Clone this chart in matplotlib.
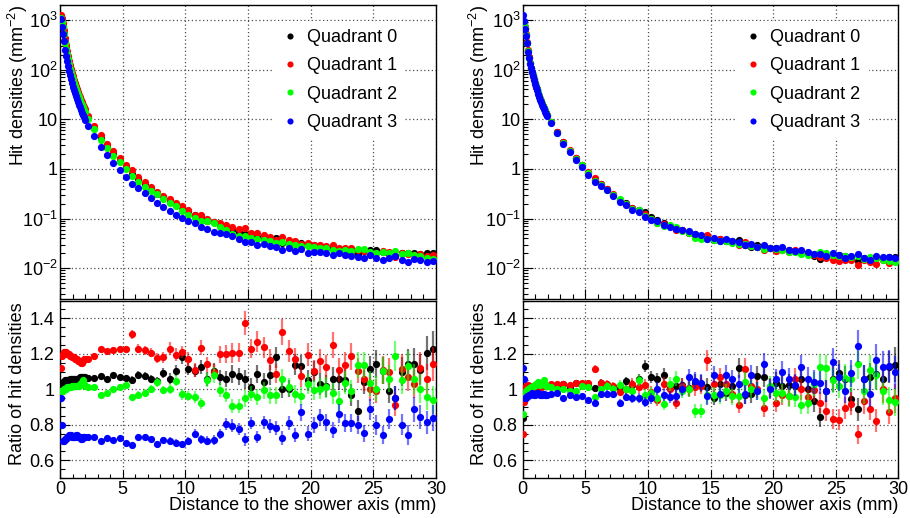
import numpy as np
import matplotlib
matplotlib.use("Agg")
import matplotlib.pyplot as plt
from matplotlib.ticker import FixedLocator, MultipleLocator, LogLocator, NullFormatter, FixedFormatter
from matplotlib.colors import to_rgba

plt.rcParams['font.family'] = ['Liberation Sans', 'DejaVu Sans']
plt.rcParams['mathtext.fontset'] = 'custom'
plt.rcParams['mathtext.rm'] = 'Liberation Sans'
plt.rcParams['mathtext.it'] = 'Liberation Sans:italic'
plt.rcParams['mathtext.bf'] = 'Liberation Sans:bold'

# ---------------- binning (mm) ----------------
fine_edges = np.arange(0.0, 2.0001, 0.08)     # 25 fine bins
coarse_edges = np.arange(2.0, 30.0001, 0.5)   # 56 coarse bins
x_fine = 0.5 * (fine_edges[:-1] + fine_edges[1:])
x_coarse = 0.5 * (coarse_edges[:-1] + coarse_edges[1:])
x_mm = np.concatenate([x_fine, x_coarse])

labels = ["Quadrant 0", "Quadrant 1", "Quadrant 2", "Quadrant 3"]
colors = ["#000000", "#ff0000", "#00ff00", "#0000ff"]

# ---------------- average hit density (mm^-2) ----------------
ref_left_fine = [1100, 900, 740, 520, 350, 257, 200, 160, 126, 104, 87, 73, 62, 53, 46,
                 40, 35, 30.5, 27, 24, 21, 19, 17, 15, 13.5]
ref_left_coarse = [10.0, 6.2, 3.95, 2.65, 1.85, 1.33, 0.98, 0.74,
                   0.57, 0.45, 0.36, 0.295, 0.245, 0.205, 0.172, 0.146,
                   0.125, 0.108, 0.095, 0.085, 0.076, 0.068, 0.061, 0.055,
                   0.05, 0.046, 0.042, 0.040, 0.038, 0.036, 0.034, 0.0325,
                   0.031, 0.0298, 0.0286, 0.0275, 0.0265, 0.0256, 0.0248, 0.024,
                   0.0233, 0.0226, 0.022, 0.0215, 0.021, 0.0205, 0.020, 0.0196,
                   0.0192, 0.0188, 0.0184, 0.018, 0.0176, 0.0172, 0.0168, 0.0165]
ref_right_fine = [1100, 900, 700, 500, 350, 240, 175, 136, 108, 90, 75, 63, 53, 45, 39,
                  33.5, 29, 25.5, 22.5, 20, 18, 16.2, 14.6, 13.2, 12]
ref_right_coarse = [8.6, 5.4, 3.4, 2.3, 1.57, 1.15, 0.82, 0.60,
                    0.475, 0.377, 0.30, 0.237, 0.196, 0.16, 0.142, 0.118,
                    0.10, 0.087, 0.077, 0.071, 0.063, 0.058, 0.052, 0.0465,
                    0.044, 0.041, 0.038, 0.037, 0.036, 0.034, 0.0325, 0.030,
                    0.028, 0.027, 0.026, 0.025, 0.0245, 0.024, 0.0225, 0.022,
                    0.021, 0.020, 0.019, 0.0185, 0.018, 0.0175, 0.017, 0.0166,
                    0.0162, 0.0158, 0.0155, 0.0152, 0.015, 0.0148, 0.0146, 0.0145]

# ---------------- ratios to the average: left ----------------
L0_fine = [1.00, 1.03, 1.04, 1.04, 1.05, 1.05, 1.05, 1.05, 1.05, 1.06, 1.06, 1.06, 1.06,
           1.06, 1.06, 1.06, 1.06, 1.06, 1.06, 1.07, 1.07, 1.07, 1.07, 1.07, 1.07]
L1_fine = [1.12, 1.19, 1.20, 1.21, 1.21, 1.21, 1.20, 1.20, 1.20, 1.19, 1.19, 1.18, 1.18,
           1.18, 1.17, 1.17, 1.17, 1.16, 1.16, 1.16, 1.15, 1.15, 1.16, 1.17, 1.17]
L2_fine = [0.99, 0.99, 0.99, 1.00, 1.00, 1.00, 1.01, 1.01, 1.01, 1.01, 1.01, 1.02, 1.02,
           1.02, 1.02, 1.02, 1.02, 1.02, 1.02, 1.03, 1.03, 1.04, 1.05, 1.03, 1.02]
L3_fine = [0.95, 0.80, 0.71, 0.71, 0.72, 0.72, 0.73, 0.73, 0.74, 0.74, 0.74, 0.73, 0.73,
           0.73, 0.73, 0.74, 0.74, 0.73, 0.73, 0.73, 0.72, 0.72, 0.73, 0.73, 0.73]
L0_coarse = [1.065, 1.063, 1.072, 1.057, 1.08, 1.067, 1.061, 1.053,
             1.08, 1.076, 1.057, 1.045, 1.09, 1.06, 1.105, 1.18,
             1.114, 1.105, 1.124, 1.057, 1.105, 1.067, 1.057, 1.086,
             1.072, 1.057, 1.015, 1.086, 1.042, 1.08, 1.18, 1.004,
             1.004, 1.137, 1.133, 1.05, 1.10, 1.03, 1.02, 1.06,
             1.06, 1.05, 0.966, 0.88, 1.04, 1.114, 1.143, 1.105,
             0.99, 0.95, 1.10, 1.14, 1.143, 1.11, 1.205, 1.225]
L1_coarse = [1.17, 1.19, 1.225, 1.213, 1.223, 1.229, 1.225, 1.31,
             1.229, 1.22, 1.206, 1.175, 1.18, 1.229, 1.194, 1.21,
             1.17, 1.11, 1.234, 1.14, 1.10, 1.198, 1.198, 1.204,
             1.206, 1.373, 1.229, 1.267, 1.236, 1.166, 1.088, 1.324,
             1.217, 1.17, 1.072, 1.194, 1.105, 1.158, 1.124, 1.25,
             1.109, 1.139, 1.185, 1.105, 1.057, 1.0, 0.99, 1.11,
             1.10, 0.914, 1.114, 1.07, 1.03, 1.12, 1.057, 1.143]
L2_coarse = [1.015, 1.01, 0.97, 0.98, 1.0, 1.015, 1.023, 0.956,
             0.97, 0.98, 1.0, 1.04, 0.996, 1.0, 1.048, 0.971,
             0.962, 0.958, 0.92, 1.053, 1.08, 0.994, 0.966, 0.905,
             0.905, 0.95, 0.975, 0.958, 0.994, 0.966, 0.966, 1.057,
             1.015, 0.971, 0.962, 1.03, 0.996, 1.004, 1.01, 0.977,
             0.933, 1.038, 0.99, 1.137, 1.137, 1.034, 1.004, 1.105,
             1.06, 1.187, 1.05, 1.13, 1.057, 1.004, 0.958, 0.939]
L3_coarse = [0.73, 0.73, 0.71, 0.724, 0.714, 0.724, 0.70, 0.686,
             0.73, 0.733, 0.718, 0.69, 0.714, 0.709, 0.70, 0.69,
             0.71, 0.749, 0.718, 0.71, 0.714, 0.747, 0.806, 0.794,
             0.775, 0.718, 0.81, 0.733, 0.813, 0.794, 0.78, 0.724,
             0.81, 0.743, 0.87, 0.749, 0.80, 0.842, 0.813, 0.771,
             0.863, 0.81, 0.81, 0.80, 0.752, 0.886, 0.80, 0.743,
             0.832, 0.952, 0.80, 0.743, 0.886, 0.844, 0.813, 0.838]

# ---------------- ratios to the average: right ----------------
R0_fine = [0.84, 0.97, 0.99, 1.00, 1.00, 1.005, 1.01, 1.01, 1.01, 1.01, 1.015, 1.015, 1.015,
           1.015, 1.02, 1.02, 1.02, 1.02, 1.02, 1.02, 1.02, 1.02, 1.02, 1.02, 1.02]
R1_fine = [0.75, 0.93, 1.00, 1.02, 1.025, 1.025, 1.02, 1.02, 1.015, 1.01, 1.01, 1.01, 1.015,
           1.015, 1.02, 1.02, 1.02, 1.015, 1.015, 1.02, 1.02, 1.02, 1.025, 1.02, 1.02]
R2_fine = [0.86, 0.975, 0.98, 0.99, 0.995, 1.00, 1.00, 1.005, 1.01, 1.015, 1.02, 1.02, 1.025,
           1.03, 1.03, 1.04, 1.03, 1.025, 1.03, 1.03, 1.035, 1.05, 1.03, 1.02, 1.02]
R3_fine = [1.12, 1.06, 0.95, 0.95, 0.96, 0.96, 0.965, 0.97, 0.975, 0.98, 0.975, 0.97, 0.97,
           0.975, 0.98, 0.98, 0.975, 0.97, 0.97, 0.97, 0.975, 0.975, 0.97, 0.965, 0.97]
R0_coarse = [1.02, 1.013, 1.03, 1.013, 1.038, 1.03, 1.02, 1.006,
             1.038, 1.025, 1.013, 1.006, 1.044, 1.025, 1.057, 1.133,
             1.07, 1.057, 1.082, 1.006, 1.02, 1.025, 1.006, 1.038,
             1.032, 1.013, 0.952, 1.032, 0.981, 1.02, 1.12, 0.968,
             0.971, 1.076, 1.07, 1.006, 1.038, 1.02, 1.025, 1.02,
             1.057, 1.0, 0.933, 0.842, 0.99, 1.057, 1.09, 1.057,
             0.943, 0.886, 1.057, 1.07, 1.086, 1.057, 1.128, 1.139]
R1_coarse = [1.03, 1.03, 1.032, 1.025, 1.038, 1.038, 1.038, 1.114,
             1.038, 1.029, 1.02, 0.987, 1.0, 1.032, 1.01, 1.025,
             0.987, 0.937, 1.032, 1.0, 0.924, 1.02, 1.0, 1.01,
             1.02, 1.162, 1.032, 1.067, 1.03, 0.971, 0.91, 1.114,
             1.02, 1.0, 0.895, 1.01, 0.924, 0.968, 0.962, 1.057,
             1.0, 0.956, 0.994, 0.924, 0.88, 0.834, 0.828, 0.895,
             0.918, 0.747, 0.933, 0.891, 0.823, 1.0, 0.872, 0.949]
R2_coarse = [1.01, 1.0, 1.0, 0.99, 0.99, 1.02, 1.01, 0.956,
             1.0, 1.02, 1.0, 1.025, 1.0, 0.99, 1.05, 0.97,
             0.98, 0.95, 0.915, 1.03, 1.06, 0.99, 1.0, 0.88,
             0.875, 0.967, 0.97, 0.965, 0.99, 0.96, 0.96, 1.04,
             1.0, 0.99, 0.95, 1.02, 0.98, 0.98, 0.96, 0.958,
             0.913, 0.92, 1.03, 1.125, 1.12, 1.05, 1.02, 1.065,
             1.06, 1.14, 0.99, 1.11, 1.08, 0.99, 0.94, 0.93]
R3_coarse = [0.975, 0.977, 0.952, 0.968, 0.956, 0.962, 0.937, 0.924,
             0.971, 0.975, 0.971, 0.924, 0.956, 0.949, 0.949, 0.93,
             0.949, 1.004, 0.966, 0.956, 0.962, 1.004, 1.067, 1.048,
             1.038, 0.962, 1.082, 0.975, 1.082, 1.057, 1.029, 0.971,
             1.082, 0.99, 1.143, 1.0, 1.057, 1.095, 1.057, 1.025,
             1.124, 1.06, 1.04, 1.038, 0.99, 1.152, 1.067, 0.99,
             1.09, 1.242, 1.057, 0.975, 1.162, 1.124, 1.133, 1.095]

# relative statistical uncertainty of the ratios
rel_err_fine = [0.010, 0.008, 0.006, 0.005, 0.005, 0.005, 0.005, 0.005, 0.005, 0.005, 0.005,
                0.005, 0.006, 0.006, 0.006, 0.006, 0.006, 0.007, 0.007, 0.007, 0.007, 0.008,
                0.008, 0.008, 0.008]
rel_err_coarse = [0.008, 0.01, 0.01, 0.012, 0.012, 0.014, 0.015, 0.02,
                  0.02, 0.02, 0.022, 0.025, 0.025, 0.028, 0.03, 0.03,
                  0.032, 0.035, 0.035, 0.037, 0.04, 0.04, 0.042, 0.045,
                  0.045, 0.05, 0.045, 0.047, 0.048, 0.05, 0.05, 0.055,
                  0.05, 0.052, 0.055, 0.055, 0.055, 0.058, 0.06, 0.06,
                  0.06, 0.062, 0.065, 0.065, 0.065, 0.068, 0.07, 0.07,
                  0.07, 0.072, 0.075, 0.075, 0.078, 0.08, 0.08, 0.085]

ref_left = np.array(ref_left_fine + ref_left_coarse)
ref_right = np.array(ref_right_fine + ref_right_coarse)
ratios_left = [np.array(L0_fine + L0_coarse), np.array(L1_fine + L1_coarse),
               np.array(L2_fine + L2_coarse), np.array(L3_fine + L3_coarse)]
ratios_right = [np.array(R0_fine + R0_coarse), np.array(R1_fine + R1_coarse),
                np.array(R2_fine + R2_coarse), np.array(R3_fine + R3_coarse)]
rel_err = np.array(rel_err_fine + rel_err_coarse)

# ---------------- figure ----------------
W, H = 910, 518
fig = plt.figure(figsize=(W / 100, H / 100), dpi=100)

def axes_px(x0, y0, x1, y1):
    return fig.add_axes([x0 / W, 1 - y1 / H, (x1 - x0) / W, (y1 - y0) / H])

FS = 13
GRID = dict(color='0.3', linestyle=(0, (1, 2)), linewidth=0.9)
MS = 5.2

def style_top(ax):
    ax.set_xlim(0, 30)
    ax.set_yscale('log')
    ax.set_ylim(2.4e-3, 2.0e3)
    ax.xaxis.set_major_locator(MultipleLocator(5))
    ax.xaxis.set_minor_locator(MultipleLocator(1))
    ax.yaxis.set_major_locator(FixedLocator([1e-2, 1e-1, 1, 10, 1e2, 1e3]))
    ax.yaxis.set_major_formatter(FixedFormatter(['$10^{-2}$', '$10^{-1}$', '1', '10',
                                                 '$10^{2}$', '$10^{3}$']))
    ax.yaxis.set_minor_locator(LogLocator(base=10, subs=np.arange(2, 10), numticks=30))
    ax.yaxis.set_minor_formatter(NullFormatter())
    ax.tick_params(axis='both', which='both', direction='in', top=False, right=False,
                   labelbottom=False, labelsize=FS, pad=1.5)
    ax.tick_params(which='major', length=7, width=0.8)
    ax.tick_params(which='minor', length=3.5, width=0.8)
    ax.grid(True, which='major', **GRID)
    for s in ax.spines.values():
        s.set_linewidth(1.0)

def style_ratio(ax):
    ax.set_xlim(0, 30)
    ax.set_ylim(0.5, 1.5)
    ax.xaxis.set_major_locator(MultipleLocator(5))
    ax.xaxis.set_minor_locator(MultipleLocator(1))
    ax.yaxis.set_major_locator(FixedLocator([0.6, 0.8, 1.0, 1.2, 1.4]))
    ax.yaxis.set_major_formatter(FixedFormatter(['0.6', '0.8', '1', '1.2', '1.4']))
    ax.yaxis.set_minor_locator(MultipleLocator(0.05))
    ax.tick_params(axis='both', which='both', direction='in', top=False, right=False,
                   labelsize=FS)
    ax.tick_params(axis='y', which='major', length=7, width=0.8, pad=4)
    ax.tick_params(axis='y', which='minor', length=3.5, width=0.8)
    ax.tick_params(axis='x', which='major', length=6, width=0.8, pad=2)
    ax.tick_params(axis='x', which='minor', length=3, width=0.8)
    ax.grid(True, which='major', **GRID)
    for s in ax.spines.values():
        s.set_linewidth(1.0)

def draw_column(x0, x1, ref, ratios, legend_x):
    ax_t = axes_px(x0, 5, x1, 299)
    ax_r = axes_px(x0, 300.5, x1, 478)
    style_top(ax_t)
    style_ratio(ax_r)
    for i, (r, c, lab) in enumerate(zip(ratios, colors, labels)):
        ax_t.plot(x_mm, ref * r, linestyle='none', marker='o', ms=MS, color=c,
                  mec=c, mew=0, label=lab, zorder=3 + i)
        ax_r.errorbar(x_mm, r, yerr=rel_err * r, fmt='none', ecolor=to_rgba(c, 0.55),
                      elinewidth=1.6, capsize=0, zorder=3 + 2 * i)
        ax_r.plot(x_mm, r, linestyle='none', marker='o', ms=MS, color=c, mec=c, mew=0,
                  zorder=4 + 2 * i)
    leg = ax_t.legend(loc='upper left', bbox_to_anchor=(legend_x, 0.945),
                      borderaxespad=0, frameon=True, facecolor='white', edgecolor='none',
                      framealpha=1, fancybox=False, fontsize=FS, markerscale=0.85,
                      handlelength=1.0, handletextpad=0.45, labelspacing=0.62,
                      borderpad=0.45, numpoints=1)
    leg.set_zorder(20)
    return ax_t, ax_r

draw_column(60, 436, ref_left, ratios_left, 0.566)
draw_column(522.7, 898.3, ref_right, ratios_right, 0.568)

# axis titles (ROOT style, aligned to the axis end)
for xl, xr in [(17.5, 436), (479, 898.3)]:
    fig.text(xl / W, 1 - 5 / H, 'Hit densities (mm$^{-2}$)', rotation=90,
             ha='center', va='top', fontsize=FS)
    fig.text(xl / W, 1 - 302 / H, 'Ratio of hit densities', rotation=90,
             ha='center', va='top', fontsize=FS)
    fig.text(xr / W, 1 - 497 / H, 'Distance to the shower axis (mm)',
             ha='right', va='top', fontsize=FS)

fig.savefig('out.png', dpi=100)
